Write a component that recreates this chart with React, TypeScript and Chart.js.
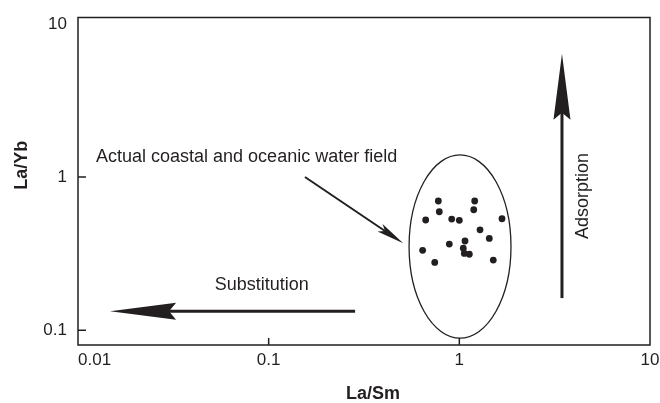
import React, { useEffect, useRef } from "react";
import { Chart, registerables } from "chart.js";

Chart.register(...registerables);

// ---- data ----
const laSm = [0.776, 1.204, 0.785, 1.19, 0.666, 0.912, 1.0, 1.674, 1.284, 1.436, 1.071, 0.886, 1.049, 1.062, 1.128, 0.642, 0.743, 1.507];
const laYb = [0.697, 0.697, 0.593, 0.611, 0.524, 0.531, 0.521, 0.534, 0.452, 0.397, 0.382, 0.365, 0.343, 0.317, 0.313, 0.332, 0.277, 0.287];

const xTickValues = [0.01, 0.1, 1, 10];
const xTickLabels = ["0.01", "0.1", "1", "10"];
const yTickValues = [0.1, 1, 10];
const yTickLabels = ["0.1", "1", "10"];
const xInnerTicks = [0.1, 1];
const yInnerTicks = [0.1, 1];

// annotation geometry in data space (La/Sm, La/Yb)
const fieldBoundsX = [0.545, 1.866];
const fieldBoundsY = [0.0887, 1.393];
const adsorptionFrom = [3.454, 0.162];
const adsorptionTo = [3.454, 6.37];
const substitutionFrom = [0.284, 0.133];
const substitutionTo = [0.01473, 0.133];
const pointerFrom = [0.155, 1.0];
const pointerTo = [0.508, 0.369];
const fieldLabelAt = [0.01243, 1.351];
const substitutionLabelAt = [0.0919, 0.197];
const adsorptionLabelAt = [4.45, 0.751];

const INK = "#231f20";
const FONT = '"Liberation Sans", Arial, Helvetica, sans-serif';

function arrowHead(ctx: CanvasRenderingContext2D, x1: number, y1: number, x2: number, y2: number, len: number, half: number, notch: number) {
  const dx = x2 - x1, dy = y2 - y1;
  const d = Math.hypot(dx, dy);
  const ux = dx / d, uy = dy / d;
  const nx = -uy, ny = ux;
  const bx = x2 - ux * len, by = y2 - uy * len;
  const mx = x2 - ux * (len - notch), my = y2 - uy * (len - notch);
  ctx.beginPath();
  ctx.moveTo(x2, y2);
  ctx.lineTo(bx + nx * half, by + ny * half);
  ctx.lineTo(mx, my);
  ctx.lineTo(bx - nx * half, by - ny * half);
  ctx.closePath();
  ctx.fill();
  return [mx, my];
}

function arrow(ctx: CanvasRenderingContext2D, x1: number, y1: number, x2: number, y2: number, lw: number, len: number, half: number, notch: number) {
  const [mx, my] = arrowHead(ctx, x1, y1, x2, y2, len, half, notch);
  ctx.beginPath();
  ctx.lineWidth = lw;
  ctx.moveTo(x1, y1);
  ctx.lineTo(mx, my);
  ctx.stroke();
}

const decorPlugin = {
  id: "decor",
  afterDatasetsDraw(chart: any) {
    const ctx: CanvasRenderingContext2D = chart.ctx;
    const xs = chart.scales.x, ys = chart.scales.y;
    const px = (v: number) => xs.getPixelForValue(v);
    const py = (v: number) => ys.getPixelForValue(v);
    const { left, right, top, bottom } = chart.chartArea;
    ctx.save();
    ctx.strokeStyle = INK;
    ctx.fillStyle = INK;

    // frame
    ctx.lineWidth = 1.5;
    ctx.strokeRect(left, top, right - left, bottom - top);
    // inner ticks
    ctx.beginPath();
    xInnerTicks.forEach((v) => { const x = px(v); ctx.moveTo(x, bottom); ctx.lineTo(x, bottom - 7); });
    yInnerTicks.forEach((v) => { const y = py(v); ctx.moveTo(left, y); ctx.lineTo(left + 8, y); });
    ctx.stroke();

    // ellipse field
    const ex1 = px(fieldBoundsX[0]), ex2 = px(fieldBoundsX[1]);
    const ey1 = py(fieldBoundsY[0]), ey2 = py(fieldBoundsY[1]);
    ctx.beginPath();
    ctx.lineWidth = 1.3;
    ctx.ellipse((ex1 + ex2) / 2, (ey1 + ey2) / 2, Math.abs(ex2 - ex1) / 2, Math.abs(ey2 - ey1) / 2, 0, 0, Math.PI * 2);
    ctx.stroke();

    // arrows
    arrow(ctx, px(adsorptionFrom[0]), py(adsorptionFrom[1]), px(adsorptionTo[0]), py(adsorptionTo[1]), 3, 66, 8.5, 7);
    arrow(ctx, px(substitutionFrom[0]), py(substitutionFrom[1]), px(substitutionTo[0]), py(substitutionTo[1]), 3, 66, 8.5, 7);
    arrow(ctx, px(pointerFrom[0]), py(pointerFrom[1]), px(pointerTo[0]), py(pointerTo[1]), 2, 28, 4.5, 6);

    // labels
    ctx.font = "18px " + FONT;
    ctx.textBaseline = "middle";
    ctx.textAlign = "left";
    ctx.fillText("Actual coastal and oceanic water field", px(fieldLabelAt[0]), py(fieldLabelAt[1]));
    ctx.textAlign = "center";
    ctx.fillText("Substitution", px(substitutionLabelAt[0]), py(substitutionLabelAt[1]));
    ctx.save();
    ctx.translate(px(adsorptionLabelAt[0]), py(adsorptionLabelAt[1]));
    ctx.rotate(-Math.PI / 2);
    ctx.fillText("Adsorption", 0, 0);
    ctx.restore();

    // axis titles
    ctx.font = "bold 18px " + FONT;
    ctx.textAlign = "center";
    ctx.fillText("La/Sm", (left + right) / 2 + 9, bottom + 49);
    ctx.save();
    ctx.translate(left - 56, (top + bottom) / 2 - 16);
    ctx.rotate(-Math.PI / 2);
    ctx.fillText("La/Yb", 0, 0);
    ctx.restore();

    ctx.restore();
  },
};

export default function App() {
  const ref = useRef<HTMLCanvasElement | null>(null);
  useEffect(() => {
    document.body.style.margin = "0";
    const canvas = ref.current;
    if (!canvas) return;
    const chart = new Chart(canvas, {
      type: "scatter",
      data: {
        datasets: [
          {
            label: "samples",
            data: laSm.map((x, i) => ({ x, y: laYb[i] })),
            backgroundColor: INK,
            borderColor: INK,
            pointRadius: 3.4,
            pointHoverRadius: 3.4,
            borderWidth: 0,
          },
        ],
      },
      options: {
        responsive: false,
        animation: false,
        devicePixelRatio: 1,
        layout: { padding: { left: 0, right: 10, top: 17.5, bottom: 0 } },
        plugins: { legend: { display: false }, tooltip: { enabled: false }, title: { display: false } },
        scales: {
          x: {
            type: "logarithmic",
            min: 0.01,
            max: 10,
            border: { display: false },
            grid: { display: false, drawTicks: false },
            afterBuildTicks: (s: any) => { s.ticks = xTickValues.map((v) => ({ value: v })); },
            afterFit: (s: any) => { s.height = 58; s.paddingLeft = 0; s.paddingRight = 0; },
            afterUpdate: (s: any) => {
              if (s.__wrapped) return;
              s.__wrapped = true;
              const orig = s._computeLabelItems.bind(s);
              s._computeLabelItems = (ca: any) => {
                const items = orig(ca);
                if (items && items[0]) items[0].options.textAlign = "left";
                return items;
              };
              s._labelItems = null;
            },
            ticks: {
              autoSkip: false,
              maxRotation: 0,
              padding: 5,
              color: INK,
              font: { family: FONT, size: 17 },
              callback: (v: any) => { const i = xTickValues.indexOf(Number(v)); return i >= 0 ? xTickLabels[i] : ""; },
            },
          },
          y: {
            type: "logarithmic",
            min: 0.08,
            max: 11,
            border: { display: false },
            grid: { display: false, drawTicks: false },
            afterBuildTicks: (s: any) => { s.ticks = yTickValues.map((v) => ({ value: v })); },
            afterFit: (s: any) => { s.width = 78; s.paddingTop = 0; s.paddingBottom = 0; },
            ticks: {
              autoSkip: false,
              padding: 11,
              color: INK,
              font: { family: FONT, size: 17 },
              callback: (v: any) => { const i = yTickValues.indexOf(Number(v)); return i >= 0 ? yTickLabels[i] : ""; },
            },
          },
        },
      },
      plugins: [decorPlugin],
    });
    return () => chart.destroy();
  }, []);
  return (
    <div style={{ width: 660, height: 403, background: "#fff" }}>
      <canvas ref={ref} width={660} height={403} style={{ display: "block" }} />
    </div>
  );
}
